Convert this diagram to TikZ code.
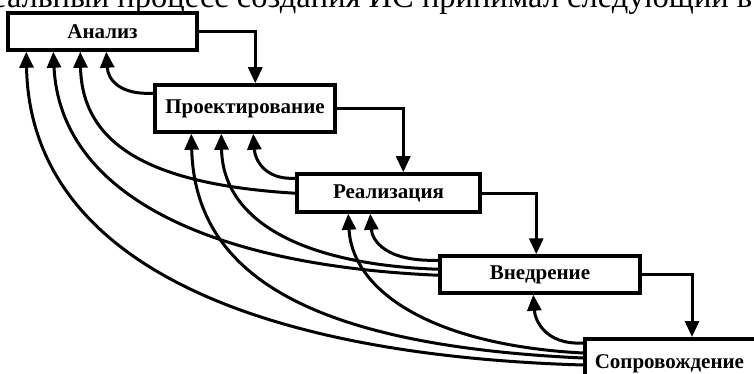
\documentclass[tikz,border=0pt]{standalone}
\usepackage{fontspec}
\setmainfont{Liberation Serif}
\usetikzlibrary{arrows.meta,calc}
\begin{document}
\begin{tikzpicture}[x=1pt,y=-1pt,
  box/.style={draw=black, line width=3.5pt, fill=white, inner sep=0pt,
    font=\bfseries\fontsize{21}{21}\selectfont},
  fw/.style={line width=3pt, -{Triangle[length=16pt,width=14pt]}},
  fb/.style={line width=3pt, -{Triangle[length=16pt,width=14pt]}}]
\useasboundingbox (0,0) rectangle (754,374);
\clip (0,0) rectangle (754,374);
% cut-off text line at the top
\node[anchor=base west, inner sep=0pt, font=\fontsize{32.5}{32.5}\selectfont] (top) at (-8,8)
  {еальный процесс создания ИС принимал следующий в};
% boxes
\node[box, minimum width=189pt, minimum height=37pt] (A) at (102.5,31.5) {Анализ};
\node[box, minimum width=180pt, minimum height=47pt] (P) at (245,108.5) {Проектирование};
\node[box, minimum width=183pt, minimum height=38pt] (R) at (388.5,193) {Реализация};
\node[box, minimum width=200pt, minimum height=37pt] (V) at (540,274.5) {Внедрение};
\node[box, anchor=north west, minimum height=50pt, text width=190pt, align=left,
  inner xsep=10pt] (S) at (583,337) {Сопровождение};
% forward connectors
\draw[fw] (A.east) -| ($(P.north west)+(102,0)$);
\draw[fw] (P.east) -| ($(R.north west)+(108,0)$);
\draw[fw] (R.east) -| ($(V.north west)+(98,0)$);
\draw[fw] (V.east) -| ($(S.north west)+(109,0)$);
% feedback connectors
\draw[fb] ($(P.north west)+(0,10)$) .. controls (120,95) and (108,80) .. ($(A.south west)+(100,0)$);
\draw[fb] ($(R.north west)+(0,6)$) .. controls (265,180) and (255,160) .. ($(P.south west)+(100,0)$);
\draw[fb] ($(V.north west)+(0,6)$) .. controls (385,262) and (372,240) .. ($(R.south west)+(75,0)$);
\draw[fb] ($(S.north west)+(0,6)$) .. controls (545,345) and (535,320) .. ($(V.south west)+(95,0)$);
\draw[fb] ($(R.north west)+(0,21)$) .. controls (160,185) and (82,150) .. ($(A.south west)+(74,0)$);
\draw[fb] ($(V.north west)+(0,21)$) .. controls (200,265) and (60,190) .. ($(A.south west)+(47,0)$);
\draw[fb] ($(V.north west)+(0,15)$) .. controls (310,265) and (223,225) .. ($(P.south west)+(68,0)$);
\draw[fb] ($(S.north west)+(0,16)$) .. controls (430,345) and (352,290) .. ($(R.south west)+(53,0)$);
\draw[fb] ($(S.north west)+(0,21)$) .. controls (300,345) and (195,270) .. ($(P.south west)+(38,0)$);
\draw[fb] ($(S.north west)+(0,28)$) .. controls (250,355) and (30,260) .. ($(A.south west)+(20,0)$);
\end{tikzpicture}
\end{document}
